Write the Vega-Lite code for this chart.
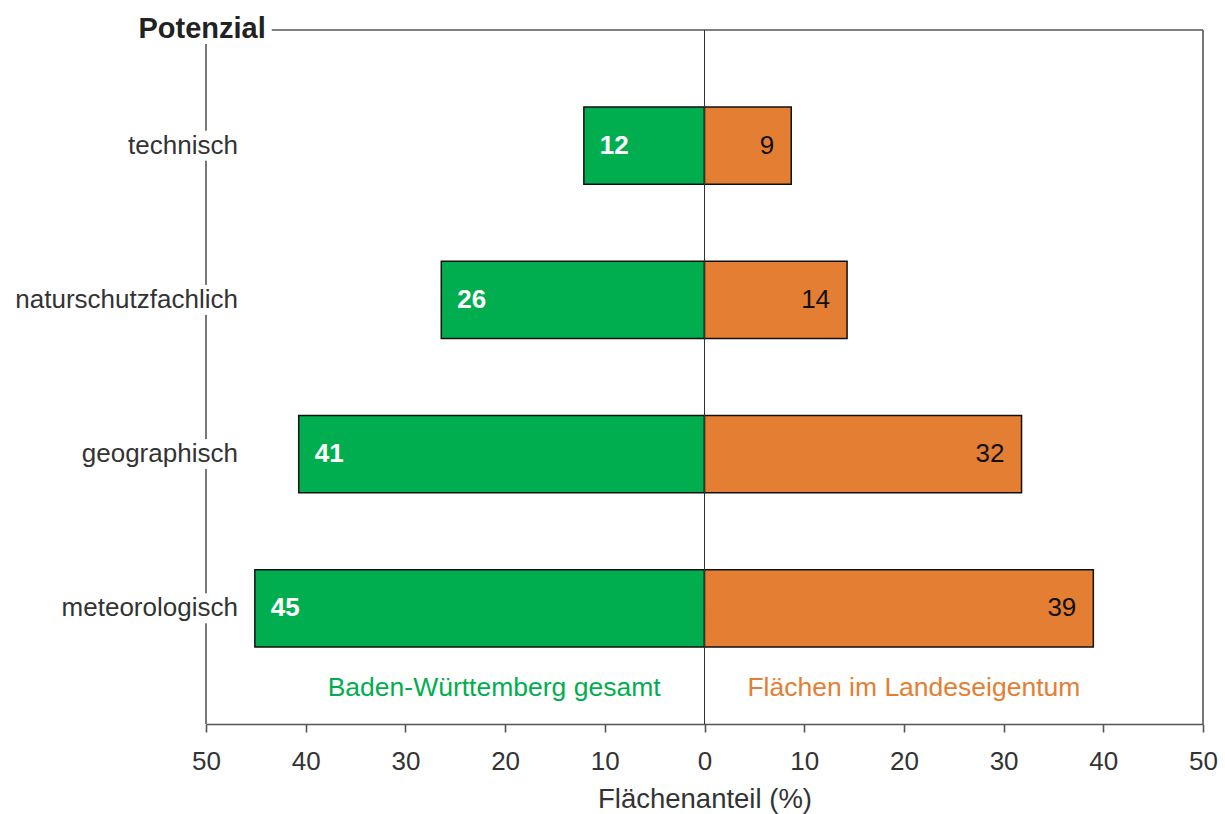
{
  "$schema": "https://vega.github.io/schema/vega-lite/v6.json",
  "width": 997,
  "height": 694,
  "autosize": {"type": "none"},
  "padding": {"left": 206, "top": 30, "right": 22, "bottom": 90},
  "background": "white",
  "config": {
    "view": {"stroke": null},
    "font": "Liberation Sans",
    "text": {"font": "Liberation Sans"}
  },
  "data": {
    "values": [
      {"Potenzial": "technisch", "Gebiet": "Baden-Württemberg gesamt", "Anteil": 12.1},
      {"Potenzial": "naturschutzfachlich", "Gebiet": "Baden-Württemberg gesamt", "Anteil": 26.4},
      {"Potenzial": "geographisch", "Gebiet": "Baden-Württemberg gesamt", "Anteil": 40.7},
      {"Potenzial": "meteorologisch", "Gebiet": "Baden-Württemberg gesamt", "Anteil": 45.1},
      {"Potenzial": "technisch", "Gebiet": "Flächen im Landeseigentum", "Anteil": 8.7},
      {"Potenzial": "naturschutzfachlich", "Gebiet": "Flächen im Landeseigentum", "Anteil": 14.3},
      {"Potenzial": "geographisch", "Gebiet": "Flächen im Landeseigentum", "Anteil": 31.8},
      {"Potenzial": "meteorologisch", "Gebiet": "Flächen im Landeseigentum", "Anteil": 39.0}
    ]
  },
  "resolve": {"scale": {"x": "independent", "y": "independent"}},
  "layer": [
    {
      "description": "left frame line, stopping below the heading",
      "data": {"values": [{}]},
      "mark": {"type": "rule", "color": "#555555", "strokeWidth": 1.6},
      "encoding": {
        "x": {"datum": -50, "type": "quantitative", "scale": {"domain": [-50, 50]}, "axis": null},
        "y": {"datum": 0, "type": "quantitative", "scale": {"domain": [0, 1]}, "axis": null},
        "y2": {"datum": 0.98}
      }
    },
    {
      "description": "top frame line, starting right of the heading",
      "data": {"values": [{}]},
      "mark": {"type": "rule", "color": "#555555", "strokeWidth": 1.6},
      "encoding": {
        "x": {"datum": -43.4, "type": "quantitative", "scale": {"domain": [-50, 50]}, "axis": null},
        "x2": {"datum": 50},
        "y": {"datum": 1, "type": "quantitative", "scale": {"domain": [0, 1]}, "axis": null}
      }
    },
    {
      "description": "right frame line",
      "data": {"values": [{}]},
      "mark": {"type": "rule", "color": "#555555", "strokeWidth": 1.6},
      "encoding": {
        "x": {"datum": 50, "type": "quantitative", "scale": {"domain": [-50, 50]}, "axis": null},
        "y": {"datum": 0, "type": "quantitative", "scale": {"domain": [0, 1]}, "axis": null},
        "y2": {"datum": 1}
      }
    },
    {
      "description": "white gaps in the left frame line behind the category names",
      "transform": [{"filter": {"field": "Gebiet", "equal": "Baden-Württemberg gesamt"}}],
      "mark": {"type": "bar", "color": "white", "size": 30},
      "encoding": {
        "x": {"datum": -51, "type": "quantitative", "scale": {"domain": [-50, 50]}, "axis": null},
        "x2": {"datum": -49},
        "y": {
          "field": "Potenzial", "type": "nominal", "axis": null,
          "scale": {"type": "band", "domain": ["technisch", "naturschutzfachlich", "geographisch", "meteorologisch"], "paddingInner": 0.5, "paddingOuter": 0.5}
        }
      }
    },
    {
      "description": "Baden-Württemberg bars, growing leftwards from zero",
      "transform": [{"filter": {"field": "Gebiet", "equal": "Baden-Württemberg gesamt"}}],
      "mark": {"type": "bar", "color": "#00AE4F", "stroke": "#111111", "strokeWidth": 1.5},
      "encoding": {
        "x": {"field": "Anteil", "type": "quantitative", "scale": {"domain": [-50, 50], "reverse": true}, "axis": null},
        "x2": {"datum": 0},
        "y": {
          "field": "Potenzial", "type": "nominal", "axis": null,
          "scale": {"type": "band", "domain": ["technisch", "naturschutzfachlich", "geographisch", "meteorologisch"], "paddingInner": 0.5, "paddingOuter": 0.5}
        }
      }
    },
    {
      "description": "state-owned land bars, growing rightwards from zero",
      "transform": [{"filter": {"field": "Gebiet", "equal": "Flächen im Landeseigentum"}}],
      "mark": {"type": "bar", "color": "#E47E32", "stroke": "#111111", "strokeWidth": 1.5},
      "encoding": {
        "x": {"field": "Anteil", "type": "quantitative", "scale": {"domain": [-50, 50]}, "axis": null},
        "x2": {"datum": 0},
        "y": {
          "field": "Potenzial", "type": "nominal", "axis": null,
          "scale": {"type": "band", "domain": ["technisch", "naturschutzfachlich", "geographisch", "meteorologisch"], "paddingInner": 0.5, "paddingOuter": 0.5}
        }
      }
    },
    {
      "description": "zero line and the shared x axis",
      "data": {"values": [{}]},
      "mark": {"type": "rule", "color": "#333333", "strokeWidth": 1},
      "encoding": {
        "x": {
          "datum": 0, "type": "quantitative",
          "scale": {"domain": [-50, 50]},
          "axis": {
            "title": "Flächenanteil (%)",
            "values": [-50, -40, -30, -20, -10, 0, 10, 20, 30, 40, 50],
            "labelExpr": "abs(datum.value)",
            "labelFlush": false,
            "grid": false,
            "domainColor": "#555555", "domainWidth": 1.6,
            "tickColor": "#555555", "tickWidth": 1.6, "tickSize": 8,
            "labelFont": "Liberation Sans", "labelFontSize": 26, "labelColor": "#333333", "labelPadding": 16,
            "labelOverlap": false,
            "titleFont": "Liberation Sans", "titleFontSize": 27.5, "titleFontWeight": "normal", "titleColor": "#333333", "titlePadding": 11
          }
        }
      }
    },
    {
      "description": "values inside the green bars",
      "transform": [{"filter": {"field": "Gebiet", "equal": "Baden-Württemberg gesamt"}}],
      "mark": {"type": "text", "align": "left", "baseline": "middle", "dx": 16, "fontSize": 26, "fontWeight": "bold", "color": "white"},
      "encoding": {
        "x": {"field": "Anteil", "type": "quantitative", "scale": {"domain": [-50, 50], "reverse": true}, "axis": null},
        "y": {
          "field": "Potenzial", "type": "nominal", "axis": null,
          "scale": {"type": "band", "domain": ["technisch", "naturschutzfachlich", "geographisch", "meteorologisch"], "paddingInner": 0.5, "paddingOuter": 0.5}
        },
        "text": {"field": "Anteil", "type": "quantitative", "format": ".0f"}
      }
    },
    {
      "description": "values inside the orange bars",
      "transform": [{"filter": {"field": "Gebiet", "equal": "Flächen im Landeseigentum"}}],
      "mark": {"type": "text", "align": "right", "baseline": "middle", "dx": -17, "fontSize": 26, "color": "#111111"},
      "encoding": {
        "x": {"field": "Anteil", "type": "quantitative", "scale": {"domain": [-50, 50]}, "axis": null},
        "y": {
          "field": "Potenzial", "type": "nominal", "axis": null,
          "scale": {"type": "band", "domain": ["technisch", "naturschutzfachlich", "geographisch", "meteorologisch"], "paddingInner": 0.5, "paddingOuter": 0.5}
        },
        "text": {"field": "Anteil", "type": "quantitative", "format": ".0f"}
      }
    },
    {
      "description": "category names across the left frame line",
      "transform": [{"filter": {"field": "Gebiet", "equal": "Baden-Württemberg gesamt"}}],
      "mark": {"type": "text", "align": "right", "baseline": "middle", "fontSize": 26, "color": "#333333"},
      "encoding": {
        "x": {"datum": -46.8, "type": "quantitative", "scale": {"domain": [-50, 50]}, "axis": null},
        "y": {
          "field": "Potenzial", "type": "nominal", "axis": null,
          "scale": {"type": "band", "domain": ["technisch", "naturschutzfachlich", "geographisch", "meteorologisch"], "paddingInner": 0.5, "paddingOuter": 0.5}
        },
        "text": {"field": "Potenzial", "type": "nominal"}
      }
    },
    {
      "description": "heading in the top-left corner",
      "data": {"values": [{}]},
      "mark": {"type": "text", "text": "Potenzial", "align": "right", "baseline": "middle", "dy": -1, "fontSize": 29, "fontWeight": "bold", "color": "#222222"},
      "encoding": {
        "x": {"datum": -44.0, "type": "quantitative", "scale": {"domain": [-50, 50]}, "axis": null},
        "y": {"datum": 1, "type": "quantitative", "scale": {"domain": [0, 1]}, "axis": null}
      }
    },
    {
      "description": "label for the left half",
      "data": {"values": [{}]},
      "mark": {"type": "text", "text": "Baden-Württemberg gesamt", "align": "center", "baseline": "middle", "fontSize": 26.5, "color": "#00AE4F"},
      "encoding": {
        "x": {"datum": -21.1, "type": "quantitative", "scale": {"domain": [-50, 50]}, "axis": null},
        "y": {"datum": 0.052, "type": "quantitative", "scale": {"domain": [0, 1]}, "axis": null}
      }
    },
    {
      "description": "label for the right half",
      "data": {"values": [{}]},
      "mark": {"type": "text", "text": "Flächen im Landeseigentum", "align": "center", "baseline": "middle", "fontSize": 26.5, "color": "#E47E32"},
      "encoding": {
        "x": {"datum": 21.0, "type": "quantitative", "scale": {"domain": [-50, 50]}, "axis": null},
        "y": {"datum": 0.052, "type": "quantitative", "scale": {"domain": [0, 1]}, "axis": null}
      }
    }
  ]
}
